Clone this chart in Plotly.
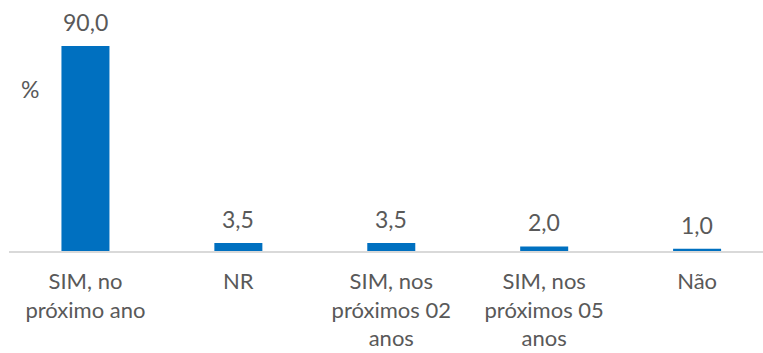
import plotly.graph_objects as go

# Respostas e percentuais
categorias = ["SIM, no próximo ano", "NR", "SIM, nos próximos 02 anos",
              "SIM, nos próximos 05 anos", "Não"]
rotulos = ["SIM, no<br>próximo ano", "NR", "SIM, nos<br>próximos 02<br>anos",
           "SIM, nos<br>próximos 05<br>anos", "Não"]
percentuais = [90.0, 3.5, 3.5, 2.0, 1.0]

cinza_texto = "#595959"
fonte = "Lato"
tam = 23

fig = go.Figure(
    go.Bar(
        x=list(range(len(categorias))),
        y=percentuais,
        marker=dict(color="#0070C0", line=dict(width=0)),
        width=0.314,
        hoverinfo="skip",
    )
)

# Rótulos de valor acima das barras (vírgula decimal)
for i, v in enumerate(percentuais):
    fig.add_annotation(
        x=i, y=v, xref="x", yref="y",
        text=f"{v:.1f}".replace(".", ","),
        showarrow=False, yanchor="bottom", yshift=8,
        font=dict(family=fonte, size=tam, color=cinza_texto),
    )

W, H = 763, 353
L, B = 8.5, 102

# Rótulo "%" do eixo de valores
fig.add_annotation(
    x=(30 - L) / (W - L), y=(251 - 89) / 251, xref="paper", yref="paper",
    text="%", showarrow=False, xanchor="center", yanchor="middle",
    font=dict(family=fonte, size=tam, color=cinza_texto),
)

fig.update_layout(
    width=W, height=H,
    margin=dict(l=L, r=0, t=0, b=B, pad=0, autoexpand=False),
    paper_bgcolor="white", plot_bgcolor="white",
    showlegend=False,
    font=dict(family=fonte, size=tam, color=cinza_texto),
    xaxis=dict(
        range=[-0.5, 4.431],
        tickmode="array",
        tickvals=list(range(len(categorias))),
        ticktext=rotulos,
        showgrid=False, zeroline=False,
        showline=True, linecolor="#D9D9D9", linewidth=1.5,
        ticks="", ticklabelstandoff=10, automargin=False,
        tickfont=dict(family=fonte, size=22, color=cinza_texto),
    ),
    yaxis=dict(
        range=[0, 110.2], visible=False, showgrid=False, zeroline=False,
        automargin=False,
    ),
)

fig.write_html("out.html")
